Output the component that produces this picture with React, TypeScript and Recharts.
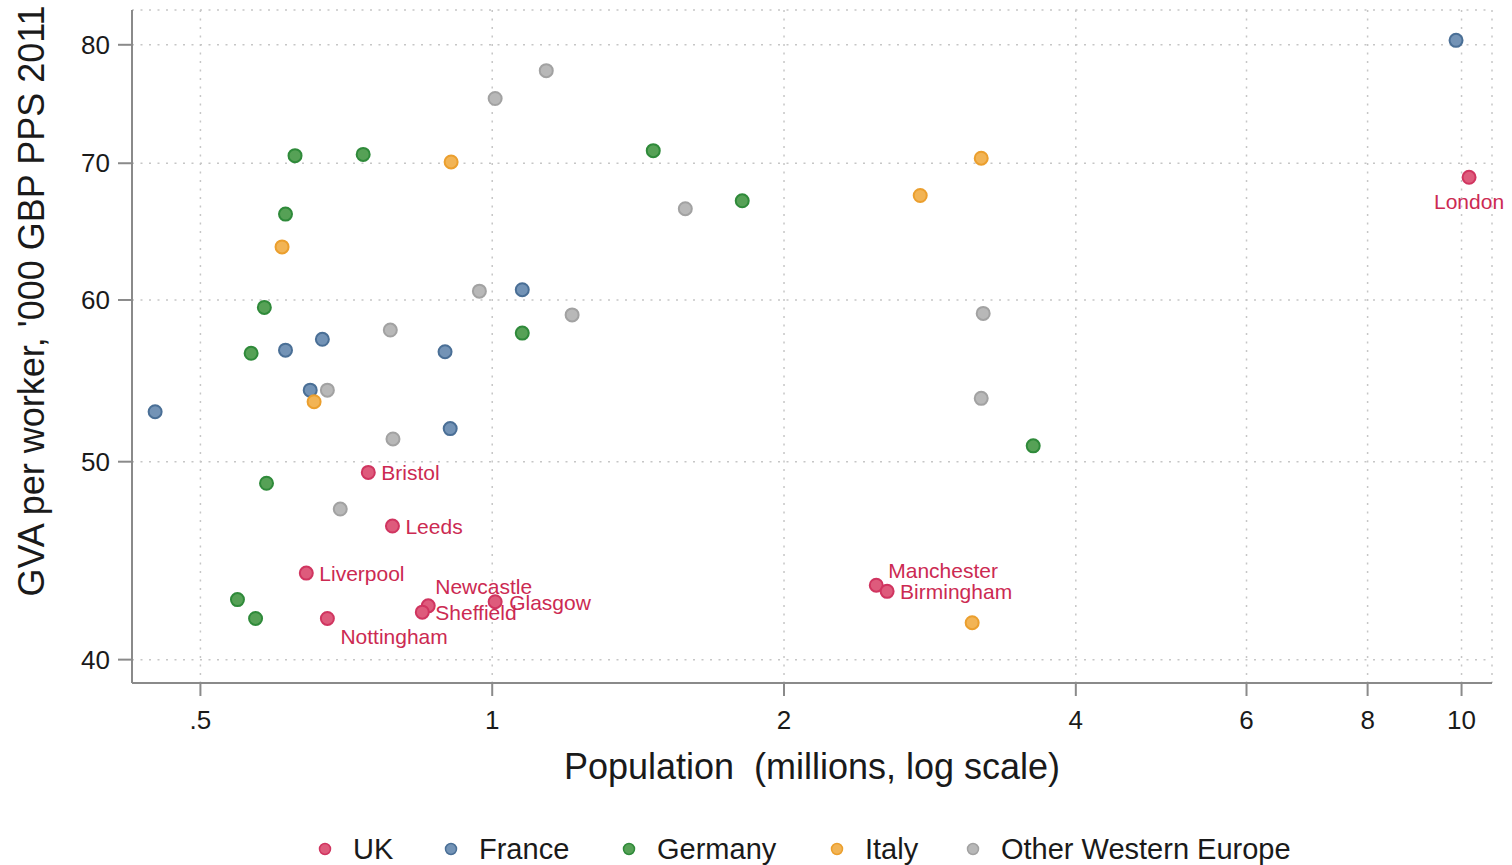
import React from "react";
import {
  ScatterChart,
  Scatter,
  XAxis,
  YAxis,
  CartesianGrid,
  Legend,
  Label,
} from "recharts";

// population in millions, GVA per worker in '000 GBP (PPS, 2011)
const ukCities = [
  "Bristol",
  "Leeds",
  "Liverpool",
  "Newcastle",
  "Sheffield",
  "Glasgow",
  "Nottingham",
  "Manchester",
  "Birmingham",
  "London",
];
const ukPop = [0.745, 0.789, 0.643, 0.859, 0.847, 1.007, 0.676, 2.49, 2.555, 10.18];
const ukGva = [49.4, 46.5, 44.1, 42.5, 42.2, 42.7, 41.9, 43.5, 43.2, 68.9];

const francePop = [0.449, 0.612, 0.668, 0.649, 0.894, 0.905, 1.074, 9.87];
const franceGva = [52.9, 56.7, 57.4, 54.2, 56.6, 51.9, 60.7, 80.4];

const germanyPop = [0.626, 0.736, 0.612, 0.582, 0.564, 0.585, 0.546, 0.57, 1.074, 1.466, 1.811, 3.615];
const germanyGva = [70.6, 70.7, 66.1, 59.5, 56.5, 48.8, 42.8, 41.9, 57.8, 71.0, 67.1, 50.9];

const italyPop = [0.907, 0.607, 0.655, 2.764, 3.195, 3.127];
const italyGva = [70.1, 63.7, 53.5, 67.5, 70.4, 41.7];

const otherPop = [1.137, 1.007, 1.582, 0.97, 1.209, 0.785, 0.676, 0.79, 0.697, 3.21, 3.195];
const otherGva = [77.7, 75.3, 66.5, 60.6, 59.0, 58.0, 54.2, 51.3, 47.4, 59.1, 53.7];

const xTicks = [0.5, 1, 2, 4, 6, 8, 10];
const yTicks = [40, 50, 60, 70, 80];

const toPoints = (pop: number[], gva: number[], names?: string[]) =>
  pop.map((p, i) => ({ pop: p, gva: gva[i], name: names ? names[i] : "" }));

const series = [
  { key: "France", data: toPoints(francePop, franceGva), fill: "#7393b6", stroke: "#4a6f96" },
  { key: "Germany", data: toPoints(germanyPop, germanyGva), fill: "#56a156", stroke: "#2f8a3a" },
  { key: "Italy", data: toPoints(italyPop, italyGva), fill: "#f2b455", stroke: "#eb9f2e" },
  { key: "Other Western Europe", data: toPoints(otherPop, otherGva), fill: "#b8b8b8", stroke: "#a2a2a2" },
  { key: "UK", data: toPoints(ukPop, ukGva, ukCities), fill: "#de5b7c", stroke: "#d03560" },
];

const legendOrder = ["UK", "France", "Germany", "Italy", "Other Western Europe"];
const legendX = [325, 451, 629, 837, 973];

// where each city name sits relative to its marker
const labelPlacement: Record<string, { dx: number; dy: number; anchor: string }> = {
  Bristol: { dx: 13, dy: 0, anchor: "start" },
  Leeds: { dx: 13, dy: 0, anchor: "start" },
  Liverpool: { dx: 13, dy: 0, anchor: "start" },
  Newcastle: { dx: 7, dy: -19, anchor: "start" },
  Sheffield: { dx: 13, dy: 0, anchor: "start" },
  Glasgow: { dx: 14, dy: 1, anchor: "start" },
  Nottingham: { dx: 13, dy: 18, anchor: "start" },
  Manchester: { dx: 12, dy: -15, anchor: "start" },
  Birmingham: { dx: 13, dy: 0, anchor: "start" },
  London: { dx: 0, dy: 24, anchor: "middle" },
};

const FONT = "'Liberation Sans', Arial, Helvetica, sans-serif";
const AXIS = "#8a8a8a";
const LABEL_RED = "#cc2a52";

const dot = (fill: string, stroke: string) => (props: any) => {
  const { cx, cy, payload } = props;
  const place = payload && payload.name ? labelPlacement[payload.name] : null;
  return (
    <g>
      <circle cx={cx} cy={cy} r={6.5} fill={fill} stroke={stroke} strokeWidth={2} />
      {place && (
        <text
          x={cx + place.dx}
          y={cy + place.dy}
          textAnchor={place.anchor as any}
          dominantBaseline="central"
          fill={LABEL_RED}
          fontSize={21}
          fontFamily={FONT}
        >
          {payload.name}
        </text>
      )}
    </g>
  );
};

const renderLegend = () => (
  <div style={{ position: "relative", width: 1512, height: 48, fontFamily: FONT }}>
    {legendOrder.map((name, i) => {
      const s = series.find((d) => d.key === name)!;
      return (
        <div
          key={name}
          style={{
            position: "absolute",
            left: legendX[i] - 7,
            top: 16,
            display: "flex",
            alignItems: "center",
            height: 32,
          }}
        >
          <svg width={14} height={14}>
            <circle cx={7} cy={7} r={5.5} fill={s.fill} stroke={s.stroke} strokeWidth={1.5} />
          </svg>
          <span style={{ marginLeft: 21, fontSize: 29, color: "#1a1a1a", whiteSpace: "nowrap" }}>
            {name}
          </span>
        </div>
      );
    })}
  </div>
);

const fmtX = (v: number) => (v < 1 ? String(v).replace(/^0/, "") : String(v));

export default function App() {
  return (
    <div style={{ position: "absolute", left: 0, top: 0, width: 1512, height: 865, background: "#fff" }}>
      <ScatterChart width={1512} height={865} margin={{ top: 10, right: 20, bottom: 0, left: 0 }}>
        <CartesianGrid stroke="#c6c6c6" strokeDasharray="2 6.5" strokeWidth={1.5} />
        <XAxis
          type="number"
          dataKey="pop"
          scale="log"
          domain={[0.425, 10.75]}
          ticks={xTicks}
          tickFormatter={fmtX}
          height={134}
          stroke={AXIS}
          strokeWidth={2}
          tickSize={13}
          tickMargin={15}
          tick={{ fill: "#1a1a1a", fontSize: 26, fontFamily: FONT }}
        >
          <Label
            content={({ viewBox }: any) => (
              <text
                x={viewBox.x + viewBox.width / 2}
                y={766}
                textAnchor="middle"
                dominantBaseline="central"
                fontSize={36}
                fontFamily={FONT}
                fill="#1a1a1a"
              >
                {"Population\u00a0 (millions, log scale)"}
              </text>
            )}
          />
        </XAxis>
        <YAxis
          type="number"
          dataKey="gva"
          scale="log"
          domain={[38.96, 83.2]}
          ticks={yTicks}
          width={132}
          stroke={AXIS}
          strokeWidth={2}
          tickSize={14}
          tickMargin={8}
          tick={{ fill: "#1a1a1a", fontSize: 26, fontFamily: FONT }}
        >
          <Label
            content={() => (
              <text
                x={31}
                y={301}
                transform="rotate(-90 31 301)"
                textAnchor="middle"
                dominantBaseline="central"
                fontSize={36}
                fontFamily={FONT}
                fill="#1a1a1a"
              >
                GVA per worker, '000 GBP PPS 2011
              </text>
            )}
          />
        </YAxis>
        <Legend verticalAlign="bottom" content={renderLegend} wrapperStyle={{ left: 0, width: 1512 }} />
        {series.map((s) => (
          <Scatter
            key={s.key}
            name={s.key}
            data={s.data}
            shape={dot(s.fill, s.stroke)}
            isAnimationActive={false}
          />
        ))}
      </ScatterChart>
    </div>
  );
}
